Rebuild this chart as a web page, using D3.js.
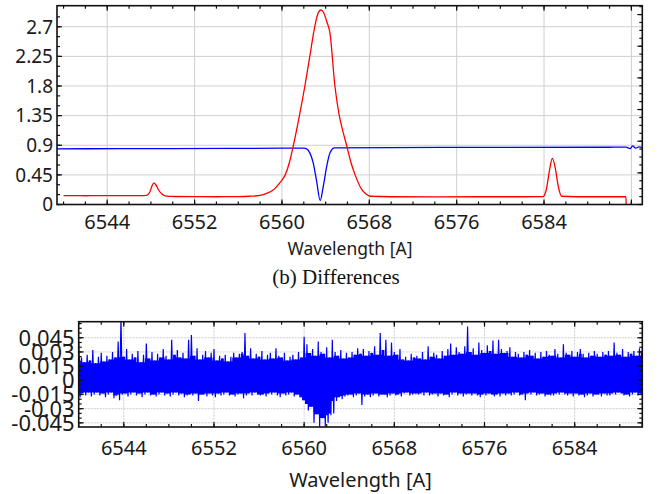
<!DOCTYPE html>
<html>
<head>
<meta charset="utf-8">
<script src="https://cdnjs.cloudflare.com/ajax/libs/d3/7.8.5/d3.min.js"></script>
<style>
  body { margin: 0; background: #fff; }
  svg { display: block; }
  .tick-label { font-family: "Noto Sans", "Open Sans", sans-serif; fill: #1a1a1a; }
</style>
</head>
<body>
<svg id="chart" width="660" height="494"></svg>
<script>
// ---- top panel: spectrum (red) and absorption (blue)
var redX = [6540.0, 6541, 6542, 6543, 6544, 6545, 6546, 6547, 6547.6, 6547.9, 6548.1, 6548.27, 6548.45, 6548.7,
    6549.0, 6549.4, 6550, 6552, 6554, 6556, 6557, 6558.0, 6558.6, 6559.2, 6559.8, 6560.3, 6560.7, 6561.05,
    6561.6, 6562.1, 6562.55, 6563.0, 6563.3, 6563.55, 6563.8, 6564.1, 6564.4, 6564.85, 6565.25, 6565.6,
    6565.92, 6566.3, 6566.7, 6567.3, 6567.7, 6568.1, 6570, 6574, 6578, 6582, 6583.9, 6584.2, 6584.5,
    6584.76, 6585.0, 6585.3, 6585.6, 6587, 6589, 6591.5, 6591.52];
var redY = [0.134, 0.136, 0.133, 0.135, 0.134, 0.136, 0.134, 0.135, 0.14, 0.19, 0.28, 0.33, 0.3, 0.22,
    0.16, 0.128, 0.122, 0.12, 0.118, 0.12, 0.125, 0.14, 0.17, 0.22, 0.33, 0.45, 0.65, 0.9,
    1.35, 1.8, 2.25, 2.7, 2.9, 2.955, 2.92, 2.78, 2.6, 1.8, 1.35, 1.1,
    0.9, 0.65, 0.45, 0.23, 0.16, 0.125, 0.118, 0.117, 0.118, 0.118, 0.12, 0.22, 0.52,
    0.70, 0.58, 0.28, 0.125, 0.118, 0.118, 0.118, 0];
var blueX = [6539.4, 6545, 6550, 6555, 6560, 6562.0, 6562.26, 6562.56, 6562.87, 6563.18, 6563.5, 6563.78,
    6564.09, 6564.33, 6564.55, 6564.8, 6570, 6580, 6590, 6591.5, 6591.9, 6592.1, 6592.4, 6592.7, 6593.0];
var blueY = [0.845, 0.848, 0.85, 0.852, 0.855, 0.855, 0.845, 0.78, 0.63, 0.35, 0.06, 0.27,
    0.57, 0.75, 0.83, 0.86, 0.865, 0.868, 0.87, 0.872, 0.85, 0.89, 0.855, 0.875, 0.86];
var topYTicks = [0, 0.45, 0.9, 1.35, 1.8, 2.25, 2.7];
var waveTicks = [6544, 6552, 6560, 6568, 6576, 6584];
var topGridX = [6544, 6552, 6560, 6568, 6576, 6584, 6592];

// ---- bottom panel: differences, sampled every 0.25 A from 6540 to 6590
var diffStart = 6540, diffStep = 0.25;
var diffHi = [
    .041, .024, .019, .027, .021, .032, .018, .025, .029, .020, .026, .022, .030, .024, .041, .066,
    .025, .033, .022, .028, .024, .031, .019, .027, .039, .023, .030, .021, .028, .024, .033, .026,
    .022, .043, .027, .032, .024, .029, .023, .043, .048, .026, .034, .022, .027, .031, .024, .029,
    .033, .021, .026, .023, .027, .020, .025, .029, .024, .028, .030, .050, .026, .034, .023, .028,
    .025, .031, .022, .027, .029, .023, .034, .026, .024, .029, .021, .025, .027, .022, .030, .024,
    .046, .038, .029, .033, .026, .041, .030, .028, .035, .024, .043, .030, .026, .032, .023, .029,
    .024, .030, .027, .034, .028, .033, .026, .031, .029, .036, .027, .050, .032, .043, .026, .040,
    .030, .027, .033, .022, .025, .021, .028, .024, .026, .023, .030, .022, .036, .025, .029, .027,
    .023, .031, .026, .033, .039, .027, .035, .030, .028, .036, .057, .030, .034, .027, .040, .032,
    .029, .037, .031, .042, .028, .043, .033, .029, .031, .035, .025, .030, .028, .024, .030, .027,
    .032, .026, .029, .023, .030, .025, .031, .027, .026, .033, .028, .024, .038, .029, .027, .031,
    .025, .030, .033, .028, .024, .029, .026, .031, .028, .025, .030, .027, .031, .026, .040, .029,
    .027, .033, .025, .030, .028, .031, .026, .034, .029];
var diffLo = [
    -.018, -.014, -.016, -.013, -.017, -.015, -.013, -.016, -.014, -.018, -.015, -.013, -.019, -.016, -.021, -.015,
    -.014, -.017, -.015, -.013, -.016, -.014, -.018, -.015, -.013, -.016, -.015, -.017, -.015, -.013, -.016, -.014,
    -.017, -.015, -.013, -.016, -.014, -.018, -.016, -.015, -.016, -.014, -.022, -.015, -.015, -.017, -.014, -.016,
    -.018, -.014, -.016, -.015, -.013, -.016, -.015, -.017, -.015, -.014, -.019, -.016, -.014, -.016, -.013, -.015,
    -.016, -.015, -.017, -.014, -.015, -.013, -.016, -.018, -.014, -.016, -.015, -.013, -.017, -.015, -.018, -.021,
    -.025, -.032, -.028, -.045, -.036, -.049, -.040, -.049, -.045, -.037, -.035, -.022, -.018, -.020, -.017, -.016,
    -.015, -.018, -.016, -.014, -.026, -.017, -.015, -.018, -.016, -.014, -.017, -.015, -.015, -.018, -.016, -.014,
    -.016, -.015, -.017, -.014, -.013, -.016, -.015, -.014, -.015, -.014, -.016, -.013, -.016, -.015, -.014, -.017,
    -.014, -.016, -.015, -.018, -.015, -.013, -.016, -.014, -.017, -.015, -.014, -.016, -.014, -.016, -.018, -.015,
    -.016, -.014, -.015, -.017, -.015, -.017, -.014, -.016, -.014, -.016, -.015, -.013, -.016, -.015, -.021, -.014,
    -.015, -.013, -.016, -.015, -.014, -.017, -.015, -.016, -.016, -.014, -.015, -.013, -.015, -.016, -.014, -.017,
    -.014, -.016, -.015, -.018, -.016, -.014, -.017, -.015, -.015, -.017, -.014, -.016, -.016, -.014, -.015, -.013,
    -.014, -.016, -.015, -.017, -.015, -.013, -.016, -.014, -.015];
var diffYTicks = [-0.045, -0.03, -0.015, 0, 0.015, 0.03, 0.045];

var svg = d3.select("#chart");

var topBox = {left: 57, right: 642.3, top: 5.7, bottom: 204.5},
    botBox = {left: 78.7, right: 642.3, top: 321.7, bottom: 427};

var xTop = d3.scaleLinear().domain([6539.4, 6593.0]).range([topBox.left, topBox.right]),
    yTop = d3.scaleLinear().domain([0, 3.02]).range([topBox.bottom, topBox.top]),
    // unlabeled right axis of the top panel has its own spacing
    yTopRight = d3.scaleLinear().domain([0, 6.28]).range([topBox.bottom, topBox.top]),
    xBot = d3.scaleLinear().domain([6540, 6590]).range([botBox.left, botBox.right]),
    yBot = d3.scaleLinear().domain([-0.0494, 0.062]).range([botBox.bottom, botBox.top]);

function drawGrid(g, box, x, y, gx, gy, dash){
    g.selectAll("line.gx").data(gx).enter().append("line")
        .attr("x1", function(d){ return x(d); }).attr("x2", function(d){ return x(d); })
        .attr("y1", box.top).attr("y2", box.bottom)
        .attr("stroke", "#cfcfcf").attr("stroke-width", 1)
        .attr("stroke-dasharray", dash);
    g.selectAll("line.gy").data(gy).enter().append("line")
        .attr("y1", function(d){ return y(d); }).attr("y2", function(d){ return y(d); })
        .attr("x1", box.left).attr("x2", box.right)
        .attr("stroke", "#cfcfcf").attr("stroke-width", 1)
        .attr("stroke-dasharray", dash);
}

function drawTicks(g, box, x, y, yRight, xMinor, yMinor, yRightMinor, xMajor, yMajor, yRightMajor){
    var t = g.append("g").attr("stroke", "#111").attr("stroke-width", 1.2);
    function hTicks(vals, len, ypos, dir){
        t.selectAll(null).data(vals).enter().append("line")
            .attr("x1", function(d){ return x(d); }).attr("x2", function(d){ return x(d); })
            .attr("y1", ypos).attr("y2", ypos + dir * len);
    }
    function vTicks(vals, scale, len, xpos, dir){
        t.selectAll(null).data(vals).enter().append("line")
            .attr("y1", function(d){ return scale(d); }).attr("y2", function(d){ return scale(d); })
            .attr("x1", xpos).attr("x2", xpos + dir * len);
    }
    hTicks(xMajor, 5, box.bottom, -1); hTicks(xMinor, 3, box.bottom, -1);
    hTicks(xMajor, 5, box.top, 1);     hTicks(xMinor, 3, box.top, 1);
    vTicks(yMajor, y, 5, box.left, 1); vTicks(yMinor, y, 3, box.left, 1);
    vTicks(yRightMajor, yRight, 5, box.right, -1); vTicks(yRightMinor, yRight, 3, box.right, -1);
    g.append("rect")
        .attr("x", box.left).attr("y", box.top)
        .attr("width", box.right - box.left).attr("height", box.bottom - box.top)
        .attr("fill", "none").attr("stroke", "#111").attr("stroke-width", 1.6);
}

function inDomain(scale){
    var dm = scale.domain();
    return function(v){ return v >= dm[0] - 1e-9 && v <= dm[1] + 1e-9; };
}

// ===== top panel
var topG = svg.append("g");
drawGrid(topG, topBox, xTop, yTop, topGridX, topYTicks, null);

svg.append("clipPath").attr("id", "clipTop").append("rect")
    .attr("x", topBox.left).attr("y", topBox.top)
    .attr("width", topBox.right - topBox.left).attr("height", topBox.bottom - topBox.top);

var lineTop = d3.line()
    .curve(d3.curveMonotoneX)
    .x(function(d){ return xTop(d[0]); })
    .y(function(d){ return yTop(d[1]); });

topG.append("path")
    .datum(d3.zip(blueX, blueY))
    .attr("clip-path", "url(#clipTop)")
    .attr("d", lineTop)
    .attr("fill", "none").attr("stroke", "#0000ff").attr("stroke-width", 1.3);

topG.append("path")
    .datum(d3.zip(redX, redY))
    .attr("clip-path", "url(#clipTop)")
    .attr("d", lineTop)
    .attr("fill", "none").attr("stroke", "#ff0000").attr("stroke-width", 1.3);

drawTicks(topG, topBox, xTop, yTop, yTopRight,
    d3.range(6540, 6593, 2).filter(inDomain(xTop)),
    d3.range(0, 3.0, 0.15),
    d3.range(0, 6.28, 0.25),
    topGridX, topYTicks, d3.range(0, 7, 1));

topG.selectAll("text.yl").data(topYTicks).enter().append("text")
    .attr("class", "tick-label")
    .attr("x", topBox.left - 4).attr("y", function(d){ return yTop(d); })
    .attr("dy", "0.36em").attr("text-anchor", "end")
    .style("font-size", "19px")
    .text(function(d){ return String(d); });

topG.selectAll("text.xl").data(waveTicks).enter().append("text")
    .attr("class", "tick-label")
    .attr("x", function(d){ return xTop(d); }).attr("y", topBox.bottom + 24)
    .attr("text-anchor", "middle")
    .style("font-size", "20px")
    .text(function(d){ return d; });

topG.append("text")
    .attr("class", "tick-label")
    .attr("x", 350).attr("y", 255)
    .attr("text-anchor", "middle")
    .style("font-size", "17.5px")
    .text("Wavelength [A]");

svg.append("text")
    .attr("x", 336).attr("y", 284)
    .attr("text-anchor", "middle")
    .style("font-family", "'Liberation Serif', 'Times New Roman', serif")
    .style("font-size", "21px")
    .attr("fill", "#111")
    .text("(b) Differences");

// ===== bottom panel
var botG = svg.append("g");
drawGrid(botG, botBox, xBot, yBot, waveTicks, diffYTicks, "2,1");

svg.append("clipPath").attr("id", "clipBot").append("rect")
    .attr("x", botBox.left).attr("y", botBox.top)
    .attr("width", botBox.right - botBox.left).attr("height", botBox.bottom - botBox.top);

var nDiff = diffHi.length;

// solid core of the noise band: the tightest excursion among neighbouring bins
var core = diffHi.map(function(h, i){
    var a = Math.max(0, i - 1), b = Math.min(nDiff, i + 2);
    return [diffStart + i * diffStep, d3.min(diffHi.slice(a, b)), d3.max(diffLo.slice(a, b))];
});

botG.append("path")
    .datum(core)
    .attr("clip-path", "url(#clipBot)")
    .attr("d", d3.area()
        .curve(d3.curveStep)
        .x(function(d){ return xBot(d[0]); })
        .y0(function(d){ return yBot(d[2]); })
        .y1(function(d){ return yBot(d[1]); }))
    .attr("fill", "#0000ff");

// zig-zag between the high and low excursion of each sample bin
var zig = [];
diffHi.forEach(function(h, i){
    var w = diffStart + i * diffStep;
    zig.push([w, h]);
    zig.push([w + diffStep / 2, diffLo[i]]);
});

botG.append("path")
    .datum(zig)
    .attr("clip-path", "url(#clipBot)")
    .attr("d", d3.line()
        .x(function(d){ return xBot(d[0]); })
        .y(function(d){ return yBot(d[1]); }))
    .attr("fill", "none").attr("stroke", "#0000ff").attr("stroke-width", 1.2);

drawTicks(botG, botBox, xBot, yBot, yBot,
    d3.range(6540, 6590.01, 2),
    d3.range(-0.045, 0.0601, 0.005),
    d3.range(-0.045, 0.0601, 0.005),
    waveTicks, diffYTicks, diffYTicks);

botG.selectAll("text.yl").data(diffYTicks).enter().append("text")
    .attr("class", "tick-label")
    .attr("x", botBox.left - 4).attr("y", function(d){ return yBot(d); })
    .attr("dy", "0.36em").attr("text-anchor", "end")
    .style("font-size", "22px")
    .text(function(d){ return String(d); });

botG.selectAll("text.xl").data(waveTicks).enter().append("text")
    .attr("class", "tick-label")
    .attr("x", function(d){ return xBot(d); }).attr("y", botBox.bottom + 28)
    .attr("text-anchor", "middle")
    .style("font-size", "20px")
    .text(function(d){ return d; });

botG.append("text")
    .attr("class", "tick-label")
    .attr("x", (botBox.left + botBox.right) / 2).attr("y", 487)
    .attr("text-anchor", "middle")
    .style("font-size", "20px")
    .text("Wavelength [A]");
</script>
</body>
</html>
